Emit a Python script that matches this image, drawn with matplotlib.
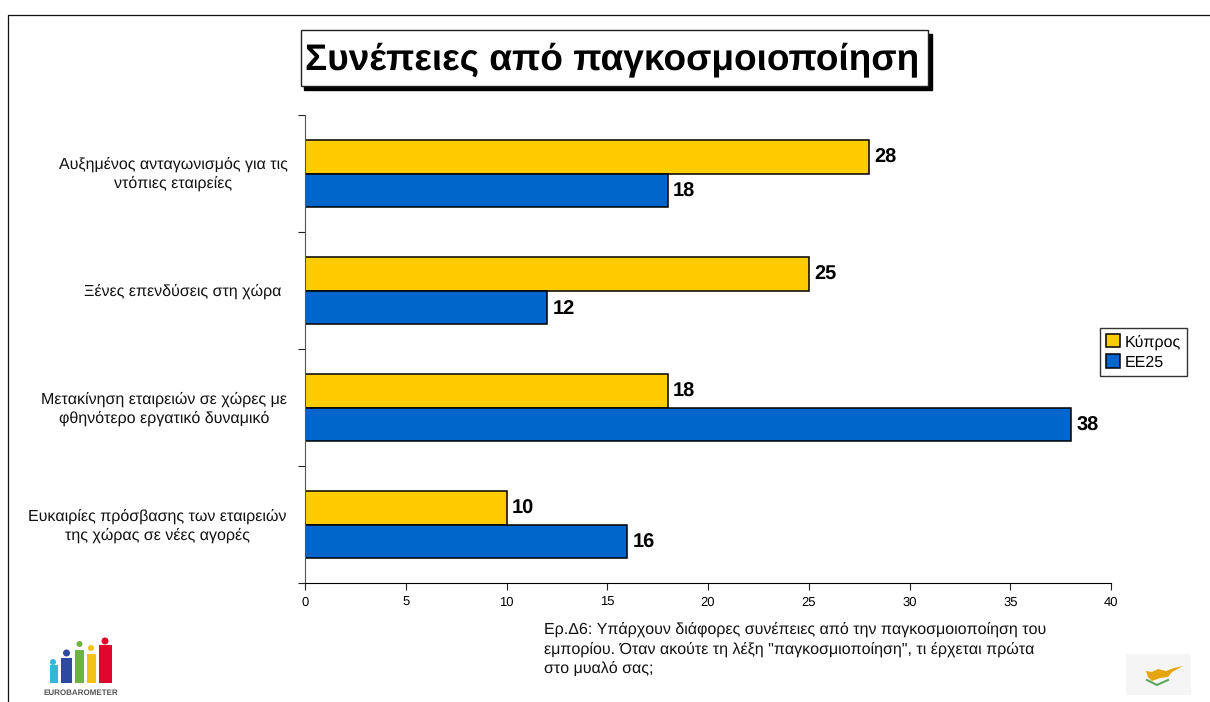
import matplotlib.pyplot as plt
from matplotlib.patches import Rectangle, Circle, Polygon

plt.rcParams['font.family'] = ['Liberation Sans', 'DejaVu Sans']
plt.rcParams['text.hinting'] = 'no_hinting'
plt.rcParams['text.hinting_factor'] = 1

# τιμές του γραφήματος
categories = ['Αυξημένος ανταγωνισμός για τις\nντόπιες εταιρείες',
              'Ξένες επενδύσεις στη χώρα ',
              'Μετακίνηση εταιρειών σε χώρες με\nφθηνότερο εργατικό δυναμικό',
              'Ευκαιρίες πρόσβασης των εταιρειών\nτης χώρας σε νέες αγορές']
cyprus = [28, 25, 18, 10]
eu25 = [18, 12, 38, 16]
xticks = [0, 5, 10, 15, 20, 25, 30, 35, 40]
title = 'Συνέπειες από παγκοσμοιοποίηση'
note = ('Ερ.Δ6: Υπάρχουν διάφορες συνέπειες από την παγκοσμοιοποίηση του\n'
        'εμπορίου. Όταν ακούτε τη λέξη "παγκοσμιοποίηση", τι έρχεται πρώτα\n'
        'στο μυαλό σας;')

W, H = 1210, 702
fig = plt.figure(figsize=(W / 100, H / 100), dpi=100)

# επίπεδο σε pixel για πλαίσιο, τίτλο, λογότυπα
bg = fig.add_axes([0, 0, 1, 1])
bg.set_xlim(0, W)
bg.set_ylim(H, 0)
bg.axis('off')

bg.plot([8, 8, W], [H, 15, 15], color='#111111', lw=0.9)

# τίτλος με σκιά
bg.add_patch(Rectangle((304, 34), 628, 56, fc='black', ec='black'))
bg.add_patch(Rectangle((300.5, 30), 627, 56, fc='white', ec='#222222', lw=1))
bg.text(612, 60, title, fontsize=26.5, fontweight='bold', ha='center', va='center')

# κύριο γράφημα
left, right, top, bottom = 305, 1111, 115, 583
ax = fig.add_axes([left / W, 1 - bottom / H, (right - left) / W, (bottom - top) / H])
ax.patch.set_alpha(0)
pos = range(len(categories))
h = 0.287
ax.barh([p - h / 2 for p in pos], cyprus, height=h, color='#FFCC00', edgecolor='black', lw=1.1, label='Κύπρος')
ax.barh([p + h / 2 for p in pos], eu25, height=h, color='#0066CC', edgecolor='black', lw=1.1, label='EE25')
ax.set_xlim(0, 40)
ax.set_ylim(3.5, -0.5)
ax.set_xticks(xticks)
ax.set_yticks([-0.5, 0.5, 1.5, 2.5, 3.5])
ax.set_yticklabels([])
ax.tick_params(axis='both', length=5, width=0.8, labelsize=9.3, color='#222222')
ax.tick_params(axis='x', pad=5)
for s in ['top', 'right']:
    ax.spines[s].set_visible(False)
ax.spines['left'].set_color('#555555')

for p, a, b in zip(pos, cyprus, eu25):
    ax.text(a + 0.27, p - h / 2 + 0.01, str(a), fontsize=14.3, fontweight='bold', va='center')
    ax.text(b + 0.27, p + h / 2 + 0.01, str(b), fontsize=14.3, fontweight='bold', va='center')

# ετικέτες κατηγοριών, κεντραρισμένες στη στήλη αριστερά
label_centers = [174, 291, 409, 526]
label_x = [173, 185, 164, 157]
for txt, lx, ly in zip(categories, label_x, label_centers):
    bg.text(lx, ly, txt, fontsize=11.6, ha='center', va='center', linespacing=1.25, color='#111111')

# υπόμνημα
leg = ax.legend(loc='center left', fontsize=11.8, frameon=True, fancybox=False,
                edgecolor='#333333', framealpha=1, handlelength=0.9, handleheight=0.9,
                handletextpad=0.25, labelspacing=0.3, borderpad=0.35, borderaxespad=0)
leg.set_bbox_to_anchor((1100 / W, 1 - 352 / H), transform=fig.transFigure)
leg.get_frame().set_linewidth(1)

bg.text(544, 649, note, fontsize=11.85, ha='left', va='center', linespacing=1.35, color='#111111')

# λογότυπο Eurobarometer
logo_bars = [(50, 58, 665, 683, '#35B5DC'), (61, 72, 658, 683, '#2E4A9E'),
             (75, 84, 650, 683, '#6DB33F'), (87, 96, 654, 683, '#F2C315'), (99, 112, 645, 683, '#E0062E')]
logo_heads = [(53, 662, 3), (66.5, 653, 3.5), (79.5, 644, 3), (91, 648, 3), (105, 641, 3.5)]
for (x0, x1, y0, y1, c), (cx, cy, r) in zip(logo_bars, logo_heads):
    bg.add_patch(Rectangle((x0, y0), x1 - x0, y1 - y0, fc=c, ec='none'))
    bg.add_patch(Circle((cx, cy), r, fc=c, ec='none'))
bg.text(81, 693, 'EUROBAROMETER', fontsize=5.6, fontweight='bold', ha='center', va='center', color='#555555')

# σημαία Κύπρου
bg.add_patch(Rectangle((1126, 654), 65, 41, fc='#F5F5F5', ec='none'))
bg.add_patch(Polygon([(1146, 671), (1152, 672), (1158, 669), (1166, 671), (1174, 668), (1183, 666),
                      (1172, 672), (1168, 677), (1160, 678), (1152, 681), (1148, 677)],
                     fc='#E5A50F', ec='none'))
bg.plot([1147, 1157, 1168], [680, 685, 680], color='#5DA85D', lw=1.5)

fig.savefig('out.png', dpi=100)
